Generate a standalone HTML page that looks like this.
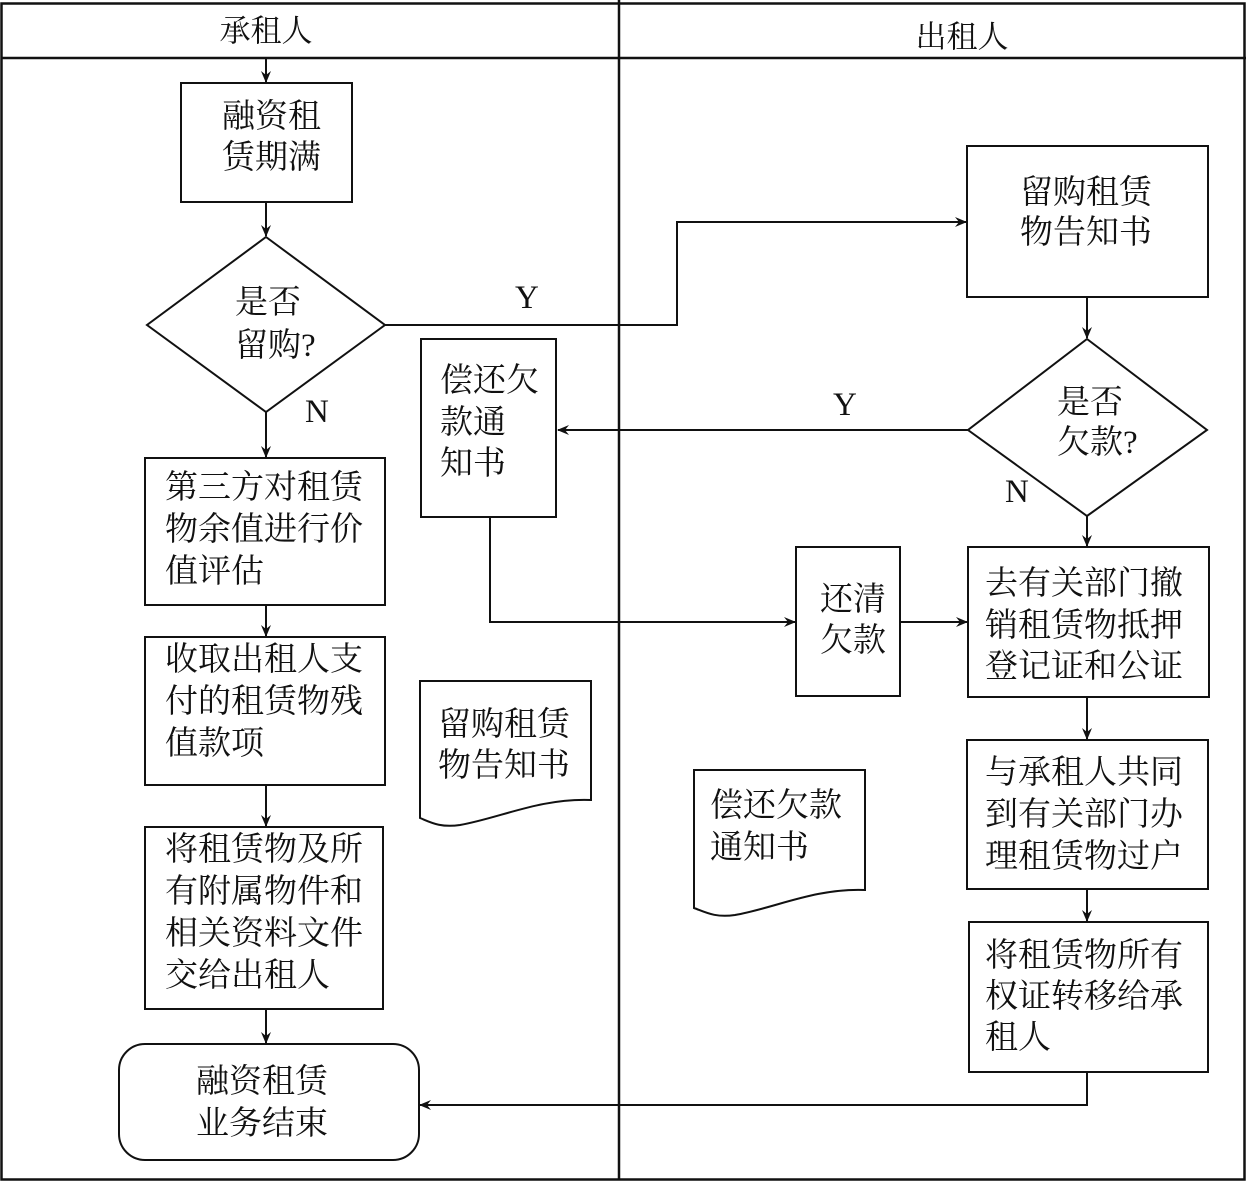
<!DOCTYPE html>
<html><head><meta charset="utf-8"><style>
html,body{margin:0;padding:0;background:#fff}
svg{display:block}
text{font-family:"Liberation Serif","Noto Serif CJK SC",serif;font-size:33px;fill:#111;dominant-baseline:central}
</style></head><body>
<svg width="1247" height="1182" viewBox="0 0 1247 1182" xmlns="http://www.w3.org/2000/svg">
<defs><marker id="a" markerWidth="12" markerHeight="12" refX="11" refY="6" orient="auto" markerUnits="userSpaceOnUse"><path d="M0,1 L12,6 L0,11 L4,6 Z" fill="#111"/></marker></defs>
<g fill="none" stroke="#111" stroke-width="2.5">
<rect x="1.5" y="3.5" width="1243" height="1176"/>
<line x1="1" y1="58" x2="1246" y2="58"/>
<line x1="619" y1="0" x2="619" y2="1180"/>
</g>
<g fill="none" stroke="#111" stroke-width="2">
<rect x="181" y="83" width="171" height="119"/>
<polygon points="266,237 385,325 266,412 147,325"/>
<rect x="145" y="458" width="240" height="147"/>
<rect x="145" y="637" width="240" height="148"/>
<rect x="145" y="827" width="238" height="182"/>
<rect x="119" y="1044" width="300" height="116" rx="26"/>
<rect x="967" y="146" width="241" height="151"/>
<polygon points="1087,339 1207,430 1087,516 968,430"/>
<rect x="421" y="339" width="135" height="178"/>
<rect x="796" y="547" width="104" height="149"/>
<rect x="968" y="547" width="241" height="150"/>
<rect x="967" y="740" width="241" height="149"/>
<rect x="969" y="922" width="239" height="150"/>
<path d="M420,681 L591,681 L591,800 C540,798 500,818 460,825 C440,828 430,822 420,818 Z"/>
<path d="M694,770 L865,770 L865,890 C815,888 775,908 735,915 C715,918 705,912 694,908 Z"/>
<g marker-end="url(#a)">
<line x1="266" y1="58" x2="266" y2="82"/>
<line x1="266" y1="202" x2="266" y2="236"/>
<line x1="266" y1="412" x2="266" y2="457"/>
<line x1="266" y1="605" x2="266" y2="636"/>
<line x1="266" y1="785" x2="266" y2="826"/>
<line x1="266" y1="1009" x2="266" y2="1043"/>
<polyline points="385,325 677,325 677,222 966,222"/>
<line x1="1087" y1="297" x2="1087" y2="338"/>
<line x1="968" y1="430" x2="558" y2="430"/>
<line x1="1087" y1="516" x2="1087" y2="546"/>
<polyline points="490,517 490,622 795,622"/>
<line x1="900" y1="622" x2="967" y2="622"/>
<line x1="1087" y1="697" x2="1087" y2="739"/>
<line x1="1087" y1="889" x2="1087" y2="921"/>
<polyline points="1087,1072 1087,1105 420,1105"/>
</g>
</g>
<text x="266" y="31" text-anchor="middle" style="font-size:31px">承租人</text>
<text x="962" y="37" text-anchor="middle" style="font-size:31px">出租人</text>
<text x="222" y="117">融资租</text><text x="222" y="158">赁期满</text>
<text x="235" y="303">是否</text><text x="235" y="346">留购?</text>
<text x="305" y="412">N</text>
<text x="515" y="298">Y</text>
<text x="165" y="488">第三方对租赁</text><text x="165" y="530">物余值进行价</text><text x="165" y="572">值评估</text>
<text x="165" y="660">收取出租人支</text><text x="165" y="702">付的租赁物残</text><text x="165" y="744">值款项</text>
<text x="165" y="850">将租赁物及所</text><text x="165" y="892">有附属物件和</text><text x="165" y="934">相关资料文件</text><text x="165" y="976">交给出租人</text>
<text x="196" y="1082">融资租赁</text><text x="196" y="1124">业务结束</text>
<text x="1020" y="193">留购租赁</text><text x="1020" y="233">物告知书</text>
<text x="1057" y="403">是否</text><text x="1057" y="443">欠款?</text>
<text x="833" y="405">Y</text>
<text x="1005" y="492">N</text>
<text x="440" y="381">偿还欠</text><text x="440" y="423">款通</text><text x="440" y="464">知书</text>
<text x="820" y="600">还清</text><text x="820" y="641">欠款</text>
<text x="985" y="584">去有关部门撤</text><text x="985" y="626">销租赁物抵押</text><text x="985" y="667">登记证和公证</text>
<text x="985" y="773">与承租人共同</text><text x="985" y="815">到有关部门办</text><text x="985" y="857">理租赁物过户</text>
<text x="985" y="956">将租赁物所有</text><text x="985" y="997">权证转移给承</text><text x="985" y="1038">租人</text>
<text x="438" y="725">留购租赁</text><text x="438" y="766">物告知书</text>
<text x="710" y="806">偿还欠款</text><text x="710" y="848">通知书</text>
</svg>
</body></html>
